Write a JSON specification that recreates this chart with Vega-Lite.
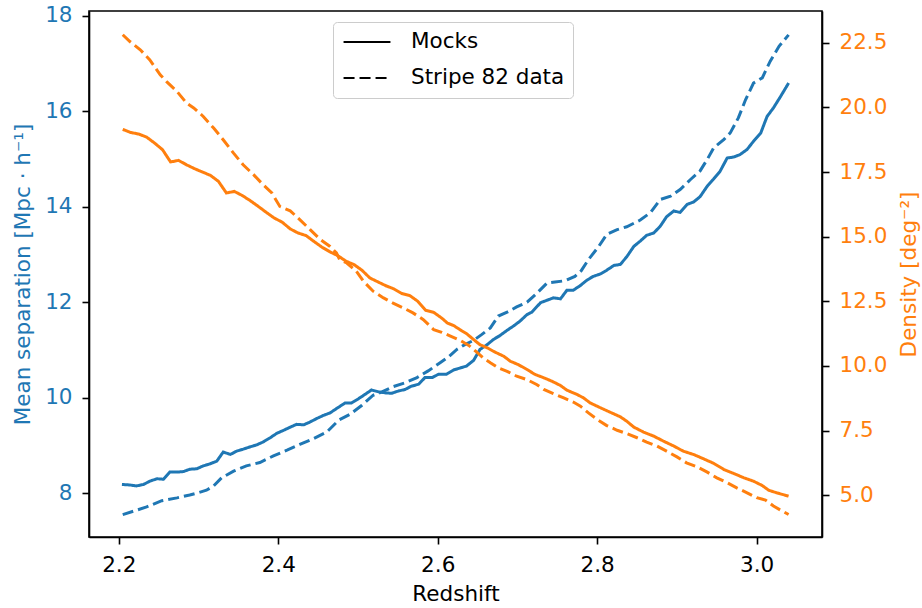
{
  "$schema": "https://vega.github.io/schema/vega-lite/v6.json",
  "width": 733,
  "height": 526,
  "autosize": {"type": "none"},
  "padding": {"left": 89, "top": 11, "right": 100, "bottom": 71},
  "background": "white",
  "config": {
    "font": "DejaVu Sans",
    "view": {"stroke": "black", "strokeWidth": 1.6},
    "axis": {
      "grid": false,
      "domainColor": "black",
      "domainWidth": 1.6,
      "tickColor": "black",
      "tickWidth": 1.6,
      "tickSize": 7,
      "labelFont": "DejaVu Sans",
      "titleFont": "DejaVu Sans",
      "labelFontSize": 21.5,
      "titleFontSize": 21.5,
      "titleFontWeight": "normal",
      "labelPadding": 10,
      "labelColor": "black",
      "titleColor": "black"
    }
  },
  "datasets": {
    "sep": [
      {"redshift": 2.204, "separation": 8.18, "source": "Mocks"},
      {"redshift": 2.214, "separation": 8.17, "source": "Mocks"},
      {"redshift": 2.222, "separation": 8.15, "source": "Mocks"},
      {"redshift": 2.231, "separation": 8.18, "source": "Mocks"},
      {"redshift": 2.239, "separation": 8.25, "source": "Mocks"},
      {"redshift": 2.248, "separation": 8.30, "source": "Mocks"},
      {"redshift": 2.256, "separation": 8.29, "source": "Mocks"},
      {"redshift": 2.264, "separation": 8.44, "source": "Mocks"},
      {"redshift": 2.273, "separation": 8.44, "source": "Mocks"},
      {"redshift": 2.281, "separation": 8.45, "source": "Mocks"},
      {"redshift": 2.289, "separation": 8.50, "source": "Mocks"},
      {"redshift": 2.298, "separation": 8.51, "source": "Mocks"},
      {"redshift": 2.306, "separation": 8.57, "source": "Mocks"},
      {"redshift": 2.314, "separation": 8.61, "source": "Mocks"},
      {"redshift": 2.323, "separation": 8.67, "source": "Mocks"},
      {"redshift": 2.331, "separation": 8.86, "source": "Mocks"},
      {"redshift": 2.340, "separation": 8.81, "source": "Mocks"},
      {"redshift": 2.348, "separation": 8.88, "source": "Mocks"},
      {"redshift": 2.356, "separation": 8.92, "source": "Mocks"},
      {"redshift": 2.365, "separation": 8.97, "source": "Mocks"},
      {"redshift": 2.373, "separation": 9.01, "source": "Mocks"},
      {"redshift": 2.381, "separation": 9.07, "source": "Mocks"},
      {"redshift": 2.390, "separation": 9.16, "source": "Mocks"},
      {"redshift": 2.398, "separation": 9.25, "source": "Mocks"},
      {"redshift": 2.406, "separation": 9.31, "source": "Mocks"},
      {"redshift": 2.415, "separation": 9.38, "source": "Mocks"},
      {"redshift": 2.423, "separation": 9.44, "source": "Mocks"},
      {"redshift": 2.432, "separation": 9.43, "source": "Mocks"},
      {"redshift": 2.440, "separation": 9.49, "source": "Mocks"},
      {"redshift": 2.448, "separation": 9.56, "source": "Mocks"},
      {"redshift": 2.457, "separation": 9.63, "source": "Mocks"},
      {"redshift": 2.465, "separation": 9.68, "source": "Mocks"},
      {"redshift": 2.473, "separation": 9.77, "source": "Mocks"},
      {"redshift": 2.484, "separation": 9.89, "source": "Mocks"},
      {"redshift": 2.492, "separation": 9.89, "source": "Mocks"},
      {"redshift": 2.501, "separation": 9.98, "source": "Mocks"},
      {"redshift": 2.509, "separation": 10.07, "source": "Mocks"},
      {"redshift": 2.517, "separation": 10.16, "source": "Mocks"},
      {"redshift": 2.526, "separation": 10.12, "source": "Mocks"},
      {"redshift": 2.534, "separation": 10.10, "source": "Mocks"},
      {"redshift": 2.542, "separation": 10.09, "source": "Mocks"},
      {"redshift": 2.551, "separation": 10.14, "source": "Mocks"},
      {"redshift": 2.559, "separation": 10.17, "source": "Mocks"},
      {"redshift": 2.567, "separation": 10.24, "source": "Mocks"},
      {"redshift": 2.576, "separation": 10.28, "source": "Mocks"},
      {"redshift": 2.584, "separation": 10.42, "source": "Mocks"},
      {"redshift": 2.593, "separation": 10.42, "source": "Mocks"},
      {"redshift": 2.601, "separation": 10.49, "source": "Mocks"},
      {"redshift": 2.611, "separation": 10.49, "source": "Mocks"},
      {"redshift": 2.620, "separation": 10.58, "source": "Mocks"},
      {"redshift": 2.628, "separation": 10.62, "source": "Mocks"},
      {"redshift": 2.636, "separation": 10.66, "source": "Mocks"},
      {"redshift": 2.645, "separation": 10.78, "source": "Mocks"},
      {"redshift": 2.653, "separation": 11.01, "source": "Mocks"},
      {"redshift": 2.662, "separation": 11.11, "source": "Mocks"},
      {"redshift": 2.670, "separation": 11.22, "source": "Mocks"},
      {"redshift": 2.678, "separation": 11.30, "source": "Mocks"},
      {"redshift": 2.687, "separation": 11.41, "source": "Mocks"},
      {"redshift": 2.695, "separation": 11.50, "source": "Mocks"},
      {"redshift": 2.703, "separation": 11.60, "source": "Mocks"},
      {"redshift": 2.712, "separation": 11.74, "source": "Mocks"},
      {"redshift": 2.718, "separation": 11.79, "source": "Mocks"},
      {"redshift": 2.729, "separation": 11.99, "source": "Mocks"},
      {"redshift": 2.737, "separation": 12.04, "source": "Mocks"},
      {"redshift": 2.745, "separation": 12.09, "source": "Mocks"},
      {"redshift": 2.754, "separation": 12.07, "source": "Mocks"},
      {"redshift": 2.762, "separation": 12.25, "source": "Mocks"},
      {"redshift": 2.770, "separation": 12.25, "source": "Mocks"},
      {"redshift": 2.779, "separation": 12.35, "source": "Mocks"},
      {"redshift": 2.787, "separation": 12.46, "source": "Mocks"},
      {"redshift": 2.795, "separation": 12.54, "source": "Mocks"},
      {"redshift": 2.804, "separation": 12.59, "source": "Mocks"},
      {"redshift": 2.812, "separation": 12.67, "source": "Mocks"},
      {"redshift": 2.821, "separation": 12.77, "source": "Mocks"},
      {"redshift": 2.829, "separation": 12.79, "source": "Mocks"},
      {"redshift": 2.837, "separation": 12.95, "source": "Mocks"},
      {"redshift": 2.846, "separation": 13.17, "source": "Mocks"},
      {"redshift": 2.854, "separation": 13.28, "source": "Mocks"},
      {"redshift": 2.862, "separation": 13.40, "source": "Mocks"},
      {"redshift": 2.871, "separation": 13.45, "source": "Mocks"},
      {"redshift": 2.879, "separation": 13.59, "source": "Mocks"},
      {"redshift": 2.887, "separation": 13.79, "source": "Mocks"},
      {"redshift": 2.896, "separation": 13.91, "source": "Mocks"},
      {"redshift": 2.904, "separation": 13.88, "source": "Mocks"},
      {"redshift": 2.913, "separation": 14.05, "source": "Mocks"},
      {"redshift": 2.921, "separation": 14.10, "source": "Mocks"},
      {"redshift": 2.929, "separation": 14.21, "source": "Mocks"},
      {"redshift": 2.938, "separation": 14.43, "source": "Mocks"},
      {"redshift": 2.946, "separation": 14.58, "source": "Mocks"},
      {"redshift": 2.954, "separation": 14.74, "source": "Mocks"},
      {"redshift": 2.963, "separation": 15.02, "source": "Mocks"},
      {"redshift": 2.971, "separation": 15.04, "source": "Mocks"},
      {"redshift": 2.979, "separation": 15.09, "source": "Mocks"},
      {"redshift": 2.988, "separation": 15.20, "source": "Mocks"},
      {"redshift": 2.996, "separation": 15.37, "source": "Mocks"},
      {"redshift": 3.005, "separation": 15.54, "source": "Mocks"},
      {"redshift": 3.013, "separation": 15.89, "source": "Mocks"},
      {"redshift": 3.021, "separation": 16.07, "source": "Mocks"},
      {"redshift": 3.030, "separation": 16.31, "source": "Mocks"},
      {"redshift": 3.040, "separation": 16.59, "source": "Mocks"},
      {"redshift": 2.205, "separation": 7.55, "source": "Stripe 82 data"},
      {"redshift": 2.220, "separation": 7.63, "source": "Stripe 82 data"},
      {"redshift": 2.235, "separation": 7.71, "source": "Stripe 82 data"},
      {"redshift": 2.254, "separation": 7.84, "source": "Stripe 82 data"},
      {"redshift": 2.273, "separation": 7.90, "source": "Stripe 82 data"},
      {"redshift": 2.289, "separation": 7.96, "source": "Stripe 82 data"},
      {"redshift": 2.300, "separation": 8.01, "source": "Stripe 82 data"},
      {"redshift": 2.310, "separation": 8.06, "source": "Stripe 82 data"},
      {"redshift": 2.319, "separation": 8.15, "source": "Stripe 82 data"},
      {"redshift": 2.329, "separation": 8.32, "source": "Stripe 82 data"},
      {"redshift": 2.344, "separation": 8.46, "source": "Stripe 82 data"},
      {"redshift": 2.360, "separation": 8.57, "source": "Stripe 82 data"},
      {"redshift": 2.377, "separation": 8.64, "source": "Stripe 82 data"},
      {"redshift": 2.394, "separation": 8.78, "source": "Stripe 82 data"},
      {"redshift": 2.411, "separation": 8.90, "source": "Stripe 82 data"},
      {"redshift": 2.427, "separation": 9.02, "source": "Stripe 82 data"},
      {"redshift": 2.444, "separation": 9.14, "source": "Stripe 82 data"},
      {"redshift": 2.461, "separation": 9.28, "source": "Stripe 82 data"},
      {"redshift": 2.476, "separation": 9.53, "source": "Stripe 82 data"},
      {"redshift": 2.490, "separation": 9.65, "source": "Stripe 82 data"},
      {"redshift": 2.505, "separation": 9.84, "source": "Stripe 82 data"},
      {"redshift": 2.519, "separation": 10.05, "source": "Stripe 82 data"},
      {"redshift": 2.530, "separation": 10.12, "source": "Stripe 82 data"},
      {"redshift": 2.544, "separation": 10.23, "source": "Stripe 82 data"},
      {"redshift": 2.559, "separation": 10.31, "source": "Stripe 82 data"},
      {"redshift": 2.574, "separation": 10.42, "source": "Stripe 82 data"},
      {"redshift": 2.588, "separation": 10.56, "source": "Stripe 82 data"},
      {"redshift": 2.603, "separation": 10.73, "source": "Stripe 82 data"},
      {"redshift": 2.614, "separation": 10.86, "source": "Stripe 82 data"},
      {"redshift": 2.624, "separation": 11.01, "source": "Stripe 82 data"},
      {"redshift": 2.634, "separation": 11.11, "source": "Stripe 82 data"},
      {"redshift": 2.645, "separation": 11.20, "source": "Stripe 82 data"},
      {"redshift": 2.655, "separation": 11.32, "source": "Stripe 82 data"},
      {"redshift": 2.666, "separation": 11.46, "source": "Stripe 82 data"},
      {"redshift": 2.676, "separation": 11.71, "source": "Stripe 82 data"},
      {"redshift": 2.687, "separation": 11.79, "source": "Stripe 82 data"},
      {"redshift": 2.699, "separation": 11.90, "source": "Stripe 82 data"},
      {"redshift": 2.712, "separation": 12.00, "source": "Stripe 82 data"},
      {"redshift": 2.724, "separation": 12.18, "source": "Stripe 82 data"},
      {"redshift": 2.737, "separation": 12.40, "source": "Stripe 82 data"},
      {"redshift": 2.747, "separation": 12.42, "source": "Stripe 82 data"},
      {"redshift": 2.760, "separation": 12.45, "source": "Stripe 82 data"},
      {"redshift": 2.772, "separation": 12.54, "source": "Stripe 82 data"},
      {"redshift": 2.780, "separation": 12.66, "source": "Stripe 82 data"},
      {"redshift": 2.789, "separation": 12.89, "source": "Stripe 82 data"},
      {"redshift": 2.802, "separation": 13.17, "source": "Stripe 82 data"},
      {"redshift": 2.812, "separation": 13.42, "source": "Stripe 82 data"},
      {"redshift": 2.825, "separation": 13.52, "source": "Stripe 82 data"},
      {"redshift": 2.837, "separation": 13.58, "source": "Stripe 82 data"},
      {"redshift": 2.854, "separation": 13.72, "source": "Stripe 82 data"},
      {"redshift": 2.867, "separation": 13.88, "source": "Stripe 82 data"},
      {"redshift": 2.879, "separation": 14.15, "source": "Stripe 82 data"},
      {"redshift": 2.892, "separation": 14.22, "source": "Stripe 82 data"},
      {"redshift": 2.904, "separation": 14.36, "source": "Stripe 82 data"},
      {"redshift": 2.917, "separation": 14.57, "source": "Stripe 82 data"},
      {"redshift": 2.929, "separation": 14.75, "source": "Stripe 82 data"},
      {"redshift": 2.938, "separation": 14.99, "source": "Stripe 82 data"},
      {"redshift": 2.946, "separation": 15.23, "source": "Stripe 82 data"},
      {"redshift": 2.959, "separation": 15.41, "source": "Stripe 82 data"},
      {"redshift": 2.967, "separation": 15.55, "source": "Stripe 82 data"},
      {"redshift": 2.977, "separation": 15.86, "source": "Stripe 82 data"},
      {"redshift": 2.986, "separation": 16.24, "source": "Stripe 82 data"},
      {"redshift": 2.996, "separation": 16.59, "source": "Stripe 82 data"},
      {"redshift": 3.007, "separation": 16.70, "source": "Stripe 82 data"},
      {"redshift": 3.017, "separation": 17.05, "source": "Stripe 82 data"},
      {"redshift": 3.028, "separation": 17.36, "source": "Stripe 82 data"},
      {"redshift": 3.040, "separation": 17.60, "source": "Stripe 82 data"}
    ],
    "dens": [
      {"redshift": 2.205, "density": 19.15, "source": "Mocks"},
      {"redshift": 2.215, "density": 19.03, "source": "Mocks"},
      {"redshift": 2.225, "density": 18.97, "source": "Mocks"},
      {"redshift": 2.235, "density": 18.85, "source": "Mocks"},
      {"redshift": 2.245, "density": 18.62, "source": "Mocks"},
      {"redshift": 2.255, "density": 18.36, "source": "Mocks"},
      {"redshift": 2.265, "density": 17.89, "source": "Mocks"},
      {"redshift": 2.275, "density": 17.95, "source": "Mocks"},
      {"redshift": 2.285, "density": 17.78, "source": "Mocks"},
      {"redshift": 2.295, "density": 17.63, "source": "Mocks"},
      {"redshift": 2.305, "density": 17.50, "source": "Mocks"},
      {"redshift": 2.315, "density": 17.37, "source": "Mocks"},
      {"redshift": 2.325, "density": 17.14, "source": "Mocks"},
      {"redshift": 2.335, "density": 16.69, "source": "Mocks"},
      {"redshift": 2.345, "density": 16.75, "source": "Mocks"},
      {"redshift": 2.355, "density": 16.59, "source": "Mocks"},
      {"redshift": 2.365, "density": 16.39, "source": "Mocks"},
      {"redshift": 2.375, "density": 16.17, "source": "Mocks"},
      {"redshift": 2.385, "density": 15.94, "source": "Mocks"},
      {"redshift": 2.395, "density": 15.72, "source": "Mocks"},
      {"redshift": 2.405, "density": 15.56, "source": "Mocks"},
      {"redshift": 2.415, "density": 15.30, "source": "Mocks"},
      {"redshift": 2.425, "density": 15.14, "source": "Mocks"},
      {"redshift": 2.435, "density": 15.04, "source": "Mocks"},
      {"redshift": 2.445, "density": 14.81, "source": "Mocks"},
      {"redshift": 2.455, "density": 14.59, "source": "Mocks"},
      {"redshift": 2.465, "density": 14.41, "source": "Mocks"},
      {"redshift": 2.475, "density": 14.26, "source": "Mocks"},
      {"redshift": 2.485, "density": 14.05, "source": "Mocks"},
      {"redshift": 2.495, "density": 13.92, "source": "Mocks"},
      {"redshift": 2.505, "density": 13.70, "source": "Mocks"},
      {"redshift": 2.515, "density": 13.40, "source": "Mocks"},
      {"redshift": 2.525, "density": 13.25, "source": "Mocks"},
      {"redshift": 2.535, "density": 13.10, "source": "Mocks"},
      {"redshift": 2.545, "density": 12.98, "source": "Mocks"},
      {"redshift": 2.555, "density": 12.80, "source": "Mocks"},
      {"redshift": 2.565, "density": 12.72, "source": "Mocks"},
      {"redshift": 2.575, "density": 12.50, "source": "Mocks"},
      {"redshift": 2.585, "density": 12.15, "source": "Mocks"},
      {"redshift": 2.595, "density": 12.07, "source": "Mocks"},
      {"redshift": 2.605, "density": 11.85, "source": "Mocks"},
      {"redshift": 2.612, "density": 11.66, "source": "Mocks"},
      {"redshift": 2.620, "density": 11.56, "source": "Mocks"},
      {"redshift": 2.628, "density": 11.40, "source": "Mocks"},
      {"redshift": 2.636, "density": 11.25, "source": "Mocks"},
      {"redshift": 2.645, "density": 11.02, "source": "Mocks"},
      {"redshift": 2.653, "density": 10.82, "source": "Mocks"},
      {"redshift": 2.662, "density": 10.70, "source": "Mocks"},
      {"redshift": 2.672, "density": 10.53, "source": "Mocks"},
      {"redshift": 2.683, "density": 10.37, "source": "Mocks"},
      {"redshift": 2.691, "density": 10.18, "source": "Mocks"},
      {"redshift": 2.701, "density": 10.05, "source": "Mocks"},
      {"redshift": 2.712, "density": 9.86, "source": "Mocks"},
      {"redshift": 2.722, "density": 9.67, "source": "Mocks"},
      {"redshift": 2.733, "density": 9.54, "source": "Mocks"},
      {"redshift": 2.743, "density": 9.41, "source": "Mocks"},
      {"redshift": 2.754, "density": 9.24, "source": "Mocks"},
      {"redshift": 2.762, "density": 9.06, "source": "Mocks"},
      {"redshift": 2.775, "density": 8.89, "source": "Mocks"},
      {"redshift": 2.783, "density": 8.76, "source": "Mocks"},
      {"redshift": 2.791, "density": 8.57, "source": "Mocks"},
      {"redshift": 2.804, "density": 8.38, "source": "Mocks"},
      {"redshift": 2.816, "density": 8.21, "source": "Mocks"},
      {"redshift": 2.829, "density": 8.03, "source": "Mocks"},
      {"redshift": 2.837, "density": 7.86, "source": "Mocks"},
      {"redshift": 2.846, "density": 7.63, "source": "Mocks"},
      {"redshift": 2.858, "density": 7.44, "source": "Mocks"},
      {"redshift": 2.871, "density": 7.28, "source": "Mocks"},
      {"redshift": 2.883, "density": 7.09, "source": "Mocks"},
      {"redshift": 2.896, "density": 6.90, "source": "Mocks"},
      {"redshift": 2.908, "density": 6.70, "source": "Mocks"},
      {"redshift": 2.921, "density": 6.57, "source": "Mocks"},
      {"redshift": 2.933, "density": 6.41, "source": "Mocks"},
      {"redshift": 2.946, "density": 6.23, "source": "Mocks"},
      {"redshift": 2.959, "density": 5.99, "source": "Mocks"},
      {"redshift": 2.971, "density": 5.84, "source": "Mocks"},
      {"redshift": 2.984, "density": 5.67, "source": "Mocks"},
      {"redshift": 2.996, "density": 5.54, "source": "Mocks"},
      {"redshift": 3.007, "density": 5.37, "source": "Mocks"},
      {"redshift": 3.015, "density": 5.19, "source": "Mocks"},
      {"redshift": 3.025, "density": 5.09, "source": "Mocks"},
      {"redshift": 3.040, "density": 4.96, "source": "Mocks"},
      {"redshift": 2.205, "density": 22.81, "source": "Stripe 82 data"},
      {"redshift": 2.214, "density": 22.55, "source": "Stripe 82 data"},
      {"redshift": 2.227, "density": 22.23, "source": "Stripe 82 data"},
      {"redshift": 2.239, "density": 21.84, "source": "Stripe 82 data"},
      {"redshift": 2.252, "density": 21.26, "source": "Stripe 82 data"},
      {"redshift": 2.260, "density": 21.00, "source": "Stripe 82 data"},
      {"redshift": 2.273, "density": 20.62, "source": "Stripe 82 data"},
      {"redshift": 2.285, "density": 20.17, "source": "Stripe 82 data"},
      {"redshift": 2.294, "density": 19.98, "source": "Stripe 82 data"},
      {"redshift": 2.306, "density": 19.65, "source": "Stripe 82 data"},
      {"redshift": 2.319, "density": 19.20, "source": "Stripe 82 data"},
      {"redshift": 2.331, "density": 18.75, "source": "Stripe 82 data"},
      {"redshift": 2.344, "density": 18.23, "source": "Stripe 82 data"},
      {"redshift": 2.356, "density": 17.78, "source": "Stripe 82 data"},
      {"redshift": 2.369, "density": 17.40, "source": "Stripe 82 data"},
      {"redshift": 2.381, "density": 17.01, "source": "Stripe 82 data"},
      {"redshift": 2.392, "density": 16.69, "source": "Stripe 82 data"},
      {"redshift": 2.402, "density": 16.17, "source": "Stripe 82 data"},
      {"redshift": 2.415, "density": 16.00, "source": "Stripe 82 data"},
      {"redshift": 2.427, "density": 15.66, "source": "Stripe 82 data"},
      {"redshift": 2.440, "density": 15.27, "source": "Stripe 82 data"},
      {"redshift": 2.452, "density": 14.91, "source": "Stripe 82 data"},
      {"redshift": 2.465, "density": 14.62, "source": "Stripe 82 data"},
      {"redshift": 2.473, "density": 14.37, "source": "Stripe 82 data"},
      {"redshift": 2.477, "density": 14.11, "source": "Stripe 82 data"},
      {"redshift": 2.486, "density": 13.98, "source": "Stripe 82 data"},
      {"redshift": 2.498, "density": 13.66, "source": "Stripe 82 data"},
      {"redshift": 2.507, "density": 13.27, "source": "Stripe 82 data"},
      {"redshift": 2.519, "density": 12.89, "source": "Stripe 82 data"},
      {"redshift": 2.532, "density": 12.63, "source": "Stripe 82 data"},
      {"redshift": 2.544, "density": 12.43, "source": "Stripe 82 data"},
      {"redshift": 2.557, "density": 12.24, "source": "Stripe 82 data"},
      {"redshift": 2.569, "density": 12.05, "source": "Stripe 82 data"},
      {"redshift": 2.582, "density": 11.79, "source": "Stripe 82 data"},
      {"redshift": 2.595, "density": 11.40, "source": "Stripe 82 data"},
      {"redshift": 2.605, "density": 11.30, "source": "Stripe 82 data"},
      {"redshift": 2.616, "density": 11.15, "source": "Stripe 82 data"},
      {"redshift": 2.628, "density": 10.99, "source": "Stripe 82 data"},
      {"redshift": 2.639, "density": 10.79, "source": "Stripe 82 data"},
      {"redshift": 2.649, "density": 10.53, "source": "Stripe 82 data"},
      {"redshift": 2.657, "density": 10.31, "source": "Stripe 82 data"},
      {"redshift": 2.666, "density": 10.12, "source": "Stripe 82 data"},
      {"redshift": 2.676, "density": 9.92, "source": "Stripe 82 data"},
      {"redshift": 2.687, "density": 9.79, "source": "Stripe 82 data"},
      {"redshift": 2.699, "density": 9.60, "source": "Stripe 82 data"},
      {"redshift": 2.712, "density": 9.47, "source": "Stripe 82 data"},
      {"redshift": 2.724, "density": 9.28, "source": "Stripe 82 data"},
      {"redshift": 2.733, "density": 9.09, "source": "Stripe 82 data"},
      {"redshift": 2.745, "density": 8.93, "source": "Stripe 82 data"},
      {"redshift": 2.758, "density": 8.76, "source": "Stripe 82 data"},
      {"redshift": 2.770, "density": 8.60, "source": "Stripe 82 data"},
      {"redshift": 2.779, "density": 8.44, "source": "Stripe 82 data"},
      {"redshift": 2.789, "density": 8.18, "source": "Stripe 82 data"},
      {"redshift": 2.800, "density": 7.93, "source": "Stripe 82 data"},
      {"redshift": 2.812, "density": 7.69, "source": "Stripe 82 data"},
      {"redshift": 2.825, "density": 7.51, "source": "Stripe 82 data"},
      {"redshift": 2.837, "density": 7.38, "source": "Stripe 82 data"},
      {"redshift": 2.850, "density": 7.22, "source": "Stripe 82 data"},
      {"redshift": 2.862, "density": 7.05, "source": "Stripe 82 data"},
      {"redshift": 2.875, "density": 6.90, "source": "Stripe 82 data"},
      {"redshift": 2.887, "density": 6.70, "source": "Stripe 82 data"},
      {"redshift": 2.900, "density": 6.48, "source": "Stripe 82 data"},
      {"redshift": 2.912, "density": 6.25, "source": "Stripe 82 data"},
      {"redshift": 2.925, "density": 6.10, "source": "Stripe 82 data"},
      {"redshift": 2.938, "density": 5.89, "source": "Stripe 82 data"},
      {"redshift": 2.950, "density": 5.67, "source": "Stripe 82 data"},
      {"redshift": 2.963, "density": 5.48, "source": "Stripe 82 data"},
      {"redshift": 2.975, "density": 5.28, "source": "Stripe 82 data"},
      {"redshift": 2.988, "density": 5.09, "source": "Stripe 82 data"},
      {"redshift": 3.000, "density": 4.90, "source": "Stripe 82 data"},
      {"redshift": 3.011, "density": 4.81, "source": "Stripe 82 data"},
      {"redshift": 3.021, "density": 4.58, "source": "Stripe 82 data"},
      {"redshift": 3.030, "density": 4.42, "source": "Stripe 82 data"},
      {"redshift": 3.040, "density": 4.25, "source": "Stripe 82 data"}
    ]
  },
  "layer": [
    {
      "data": {"name": "sep"},
      "mark": {"type": "line", "strokeWidth": 3, "color": "#1f77b4"},
      "encoding": {
        "x": {
          "field": "redshift",
          "type": "quantitative",
          "scale": {"domain": [2.1627, 3.0819], "nice": false, "zero": false},
          "axis": {"values": [2.2, 2.4, 2.6, 2.8, 3.0], "format": ".1f", "title": "Redshift", "titlePadding": 8}
        },
        "y": {
          "field": "separation",
          "type": "quantitative",
          "scale": {"domain": [7.08, 18.1], "nice": false, "zero": false},
          "axis": {
            "orient": "left",
            "values": [8, 10, 12, 14, 16, 18],
            "format": "d",
            "title": "Mean separation [Mpc · h⁻¹]",
            "labelColor": "#1f77b4",
            "titleColor": "#1f77b4",
            "titlePadding": 10
          }
        },
        "strokeDash": {
          "field": "source",
          "type": "nominal",
          "scale": {"domain": ["Mocks", "Stripe 82 data"], "range": [[1, 0], [11, 5]]},
          "legend": {
            "title": null,
            "orient": "none",
            "legendX": 244,
            "legendY": 11,
            "symbolType": "stroke",
            "symbolSize": 2200,
            "symbolStrokeWidth": 2.2,
            "symbolStrokeColor": "black",
            "symbolOffset": 1,
            "clipHeight": 24,
            "labelFontSize": 21.5,
            "labelColor": "black",
            "labelFont": "DejaVu Sans",
            "labelOffset": 19,
            "padding": 8,
            "rowPadding": 12,
            "strokeColor": "#cccccc",
            "fillColor": "white",
            "cornerRadius": 4,
            "encode": {
              "symbols": {"update": {"stroke": {"value": "black"}}}
            }
          }
        }
      }
    },
    {
      "data": {"name": "dens"},
      "mark": {"type": "line", "strokeWidth": 3, "color": "#ff7f0e"},
      "encoding": {
        "x": {"field": "redshift", "type": "quantitative"},
        "y": {
          "field": "density",
          "type": "quantitative",
          "scale": {"domain": [3.38, 23.73], "nice": false, "zero": false},
          "axis": {
            "orient": "right",
            "values": [5, 7.5, 10, 12.5, 15, 17.5, 20, 22.5],
            "format": ".1f",
            "title": "Density [deg⁻²]",
            "titleAngle": 270,
            "titleBaseline": "top",
            "labelColor": "#ff7f0e",
            "titleColor": "#ff7f0e",
            "titlePadding": 12
          }
        },
        "strokeDash": {"field": "source", "type": "nominal"}
      }
    }
  ],
  "resolve": {"scale": {"y": "independent"}}
}
